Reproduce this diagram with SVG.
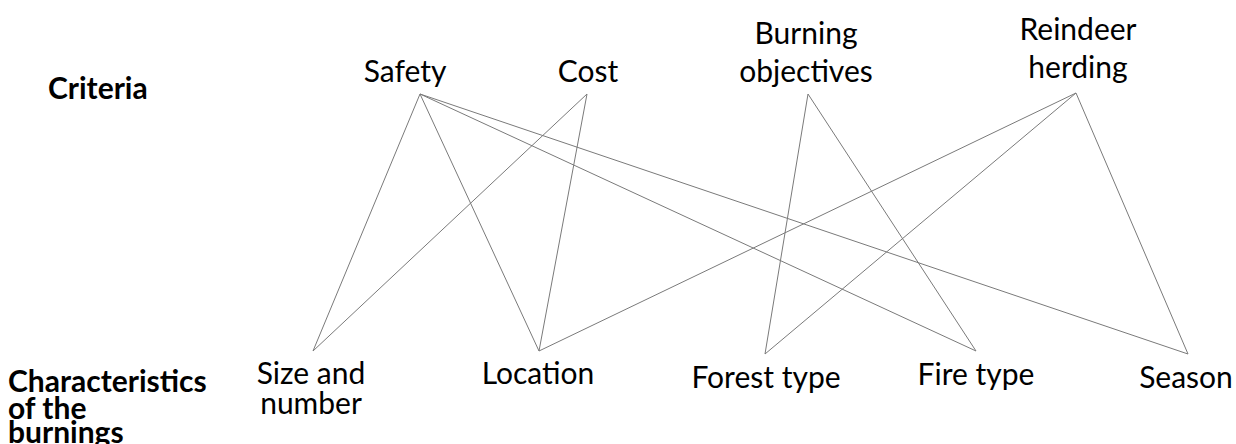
<svg xmlns="http://www.w3.org/2000/svg" width="1236" height="444" viewBox="0 0 1236 444">
<style>
text{font-family:Lato,"Open Sans","Liberation Sans",sans-serif;font-size:30px;fill:#000}
.h{font-weight:bold}
.n{text-anchor:middle}
#connectors line{stroke:#7a7a7a;stroke-width:1;fill:none}
</style>
<rect width="1236" height="444" fill="#fff"/>
<g id="criteria-label"><text class="h" x="48" y="99">Criteria</text></g>
<g id="characteristics-label"><text class="h" x="8" y="392">Characteristics</text><text class="h" x="8" y="419">of the</text><text class="h" x="8" y="443">burnings</text></g>
<g id="safety"><text class="n" x="405" y="82">Safety</text></g>
<g id="cost"><text class="n" x="588" y="82">Cost</text></g>
<g id="burning-objectives"><text class="n" x="806" y="44">Burning</text><text class="n" x="806" y="82">objectives</text></g>
<g id="reindeer-herding"><text class="n" x="1078" y="40">Reindeer</text><text class="n" x="1078" y="78">herding</text></g>
<g id="size-number"><text class="n" x="311" y="384">Size and</text><text class="n" x="311" y="414">number</text></g>
<g id="location"><text class="n" x="538" y="384">Location</text></g>
<g id="forest-type"><text class="n" x="766" y="388">Forest type</text></g>
<g id="fire-type"><text class="n" x="976" y="385">Fire type</text></g>
<g id="season"><text class="n" x="1186" y="388">Season</text></g>
<g id="connectors">
<line x1="420" y1="94" x2="313" y2="351"/>
<line x1="420" y1="94" x2="539" y2="351"/>
<line x1="420" y1="94" x2="976" y2="351"/>
<line x1="420" y1="94" x2="1188" y2="354"/>
<line x1="587" y1="94" x2="313" y2="351"/>
<line x1="587" y1="94" x2="539" y2="351"/>
<line x1="808" y1="94" x2="765" y2="354"/>
<line x1="808" y1="94" x2="976" y2="351"/>
<line x1="1076" y1="93" x2="539" y2="351"/>
<line x1="1076" y1="93" x2="765" y2="354"/>
<line x1="1076" y1="93" x2="1188" y2="354"/>
</g>
</svg>
